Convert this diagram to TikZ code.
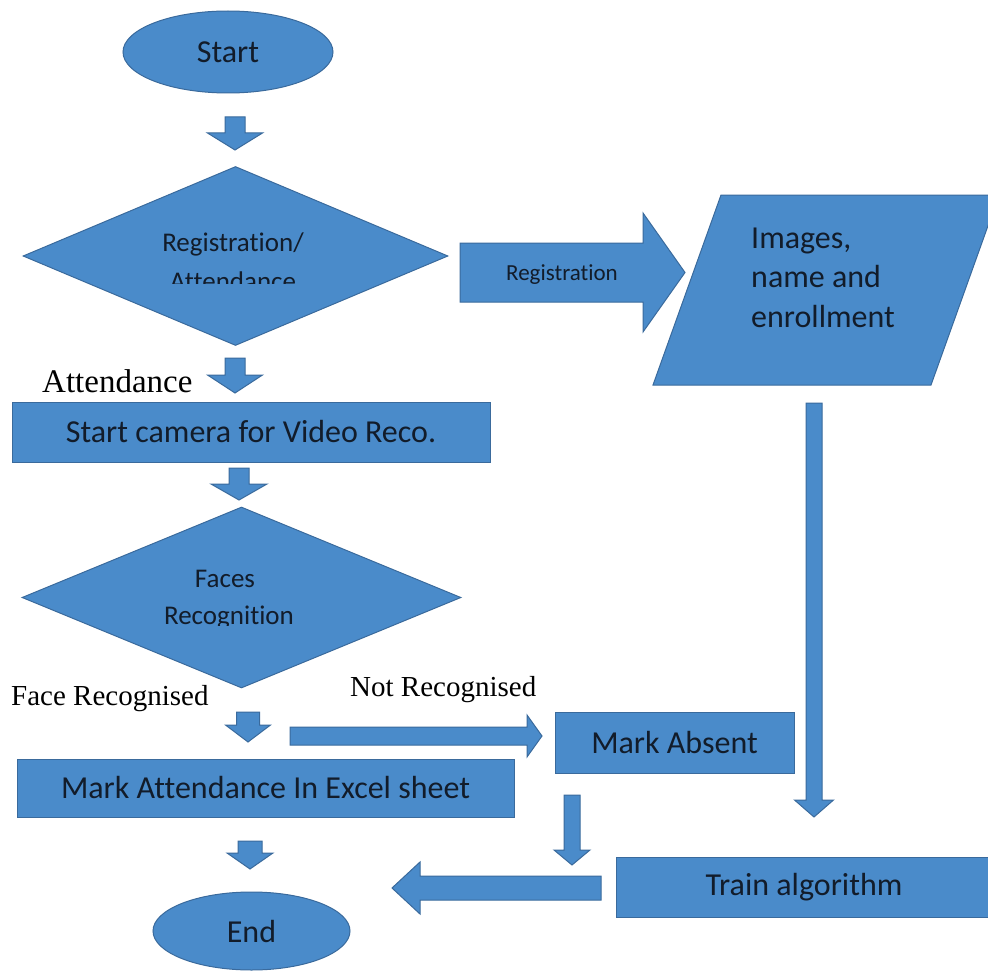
\documentclass[tikz,border=0pt]{standalone}
\usepackage{fontspec}
\setmainfont{Liberation Serif}
\setsansfont{Carlito}[RawFeature={-liga;-clig;-calt;-dlig}]
\usetikzlibrary{shapes.geometric}
\definecolor{fc}{RGB}{74,139,202}
\definecolor{lc}{RGB}{58,106,156}
\definecolor{tc}{RGB}{18,28,42}
% vertical block arrow: centre x, top y, shaft half-width, head start y, head half-width, tip y
\newcommand{\dnarrow}[6]{\draw[blockarrow] (#1-#3,#2) -- (#1+#3,#2) -- (#1+#3,#4) -- (#1+#5,#4) -- (#1,#6) -- (#1-#5,#4) -- (#1-#3,#4) -- cycle;}
% horizontal block arrow: tail x, centre y, shaft half-width, head start x, head half-width, tip x
\newcommand{\hzarrow}[6]{\draw[blockarrow] (#1,#2-#3) -- (#4,#2-#3) -- (#4,#2-#5) -- (#6,#2) -- (#4,#2+#5) -- (#4,#2+#3) -- (#1,#2+#3) -- cycle;}
\tikzset{
  shapebox/.style={draw=lc, fill=fc, line width=1pt},
  blockarrow/.style={draw=lc, fill=fc, line width=1pt},
  bigtext/.style={font=\sffamily\fontsize{32}{38}\selectfont, text=tc},
  midtext/.style={font=\sffamily\fontsize{27}{32}\selectfont, text=tc},
  smalltext/.style={font=\sffamily\fontsize{23}{28}\selectfont, text=tc},
  seriflabel/.style={font=\rmfamily\fontsize{29}{34}\selectfont, text=black, inner sep=0pt},
}
\begin{document}
\begin{tikzpicture}[x=1pt,y=-1pt]
\useasboundingbox (0,0) rectangle (988,971);
% terminals and boxes
\node[shapebox, ellipse, minimum width=210pt, minimum height=82pt, inner sep=0pt, bigtext] (start) at (228,52) {Start};
\node[shapebox, diamond, minimum width=425pt, minimum height=179pt, inner sep=0pt] (regatt) at (235.5,256) {};
\begin{scope}
  \clip (100,220) rectangle (380,283);
  \node[midtext, anchor=base, inner sep=0pt] (regatt1) at (233,251) {Registration/};
  \node[midtext, anchor=base, inner sep=0pt] (regatt2) at (233,290) {Attendance};
\end{scope}
\node[shapebox, rectangle, minimum width=478pt, minimum height=60pt, inner sep=0pt, bigtext] (cam) at (251,432) {Start camera for Video Reco.};
\node[shapebox, diamond, minimum width=439pt, minimum height=181pt, inner sep=0pt] (faces) at (241.5,597.5) {};
\node[midtext, anchor=base, inner sep=0pt] (faces1) at (225,587) {Faces};
\begin{scope}
  \clip (100,560) rectangle (380,625);
  \node[midtext, anchor=base, inner sep=0pt] (faces2) at (229,624) {Recognition};
\end{scope}
\node[shapebox, rectangle, minimum width=497pt, minimum height=58pt, inner sep=0pt, bigtext] (att) at (265.5,788) {Mark Attendance In Excel sheet};
\node[shapebox, rectangle, minimum width=239pt, minimum height=61pt, inner sep=0pt, bigtext] (absent) at (674.5,742.5) {Mark Absent};
\node[shapebox, rectangle, minimum width=376pt, minimum height=60pt, inner sep=0pt, bigtext] (train) at (804,887) {Train algorithm};
\node[shapebox, ellipse, minimum width=197pt, minimum height=78pt, inner sep=0pt, bigtext] (finish) at (251.5,931) {End};
% data parallelogram
\draw[shapebox] (721,195) coordinate (dtl) -- (999,195) -- (931,385) -- (653,385) coordinate (dbl) -- cycle;
\node[bigtext, anchor=base west, inner sep=0pt] (data1) at (751,248) {Images,};
\node[bigtext, anchor=base west, inner sep=0pt] (data2) at (751,287) {name and};
\node[bigtext, anchor=base west, inner sep=0pt] (data3) at (751,327) {enrollment};
% block arrows
\dnarrow{235}{117}{10}{133}{27.5}{150}
\dnarrow{235}{358}{10}{375}{27.5}{393}
\dnarrow{239}{468}{10}{484}{28}{500}
\dnarrow{248}{712}{11.5}{725}{22.5}{742}
\dnarrow{250}{841}{12}{853}{23}{869}
\dnarrow{572}{795}{8}{850}{18}{865}
\dnarrow{814}{403}{8}{800}{19.5}{817}
\hzarrow{460}{272.5}{29.5}{643}{59.5}{685}
\hzarrow{290}{736}{9}{527}{21}{542}
\hzarrow{601}{888}{12}{420}{26}{392}
\node[smalltext, inner sep=0pt] (lblreg) at (562,275) {Registration};
% serif labels
\node[seriflabel, anchor=base west, font=\rmfamily\fontsize{33}{38}\selectfont] (lblatt) at (42,392) {Attendance};
\node[seriflabel, anchor=base west] (lblface) at (11,705) {Face Recognised};
\node[seriflabel, anchor=base west] (lblnot) at (350,696) {Not Recognised};
\end{tikzpicture}
\end{document}
